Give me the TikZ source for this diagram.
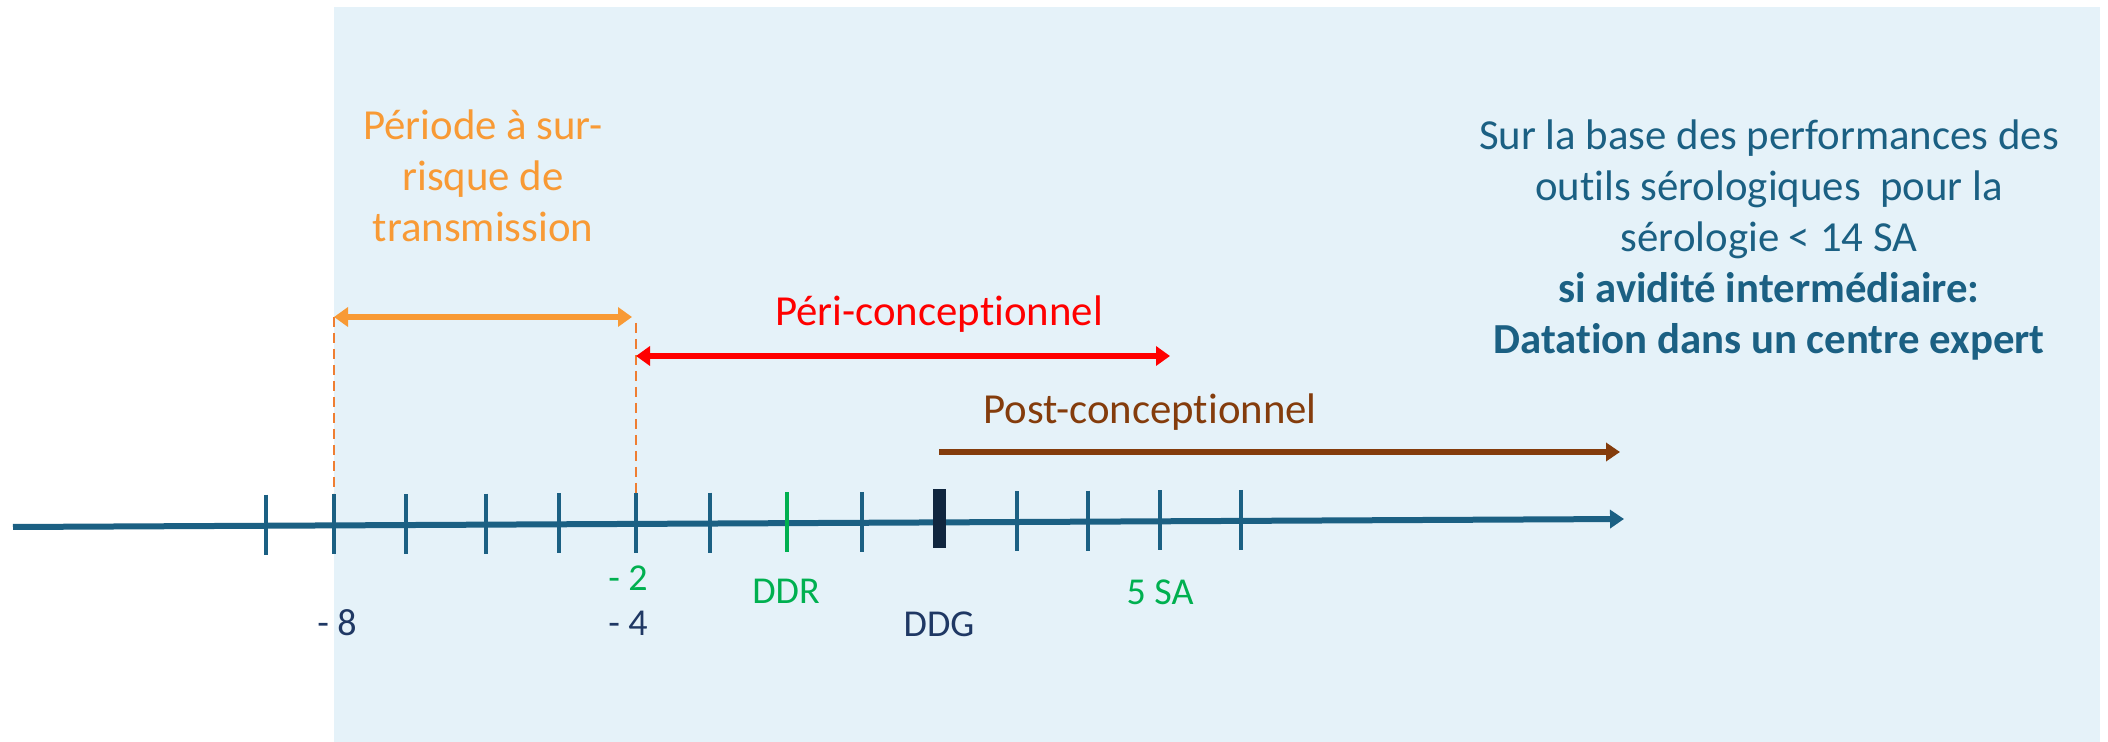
\documentclass[tikz,border=0pt]{standalone}
\usepackage{fontspec}
\setmainfont{Carlito}[Ligatures=NoCommon]
\usetikzlibrary{arrows.meta,calc}
\definecolor{bgblue}{HTML}{E5F2F9}
\definecolor{axisblue}{HTML}{1B6083}
\definecolor{marknavy}{HTML}{10263F}
\definecolor{labelnavy}{HTML}{1F3864}
\definecolor{mygreen}{HTML}{00B050}
\definecolor{myorange}{HTML}{F89A35}
\definecolor{dashorange}{HTML}{EF7E32}
\definecolor{myred}{HTML}{FF0000}
\definecolor{mybrown}{HTML}{843C0C}
\tikzset{
  tip/.style={-{Triangle[length=7pt,width=9pt]}},
  dtip/.style={{Triangle[length=7pt,width=9.5pt]}-{Triangle[length=7pt,width=9.5pt]}},
  axisline/.style={draw=axisblue,line width=3pt,-{Triangle[length=7pt,width=9pt]}},
  tickline/.style={draw=axisblue,line width=1.8pt},
  guide/.style={draw=dashorange,line width=1.1pt,dash pattern=on 5pt off 3pt},
  bigtxt/.style={font=\fontsize{21.4}{25.6}\selectfont,inner sep=0pt,anchor=base,align=center},
  lbl/.style={font=\fontsize{19}{22}\selectfont,inner sep=0pt,anchor=base}
}
\begin{document}
\begin{tikzpicture}[x=0.5pt,y=-0.5pt]
\useasboundingbox (0,0) rectangle (2108,742);
% shaded panel
\fill[bgblue] (334,7) rectangle (2100,742);

% time axis
\coordinate (axL) at (13,527);
\coordinate (axR) at (1624,519);
\draw[axisline] (axL) -- (axR);

% regular ticks (one per week)
\foreach \x/\nm in {266/ta,334/tb,406/tc,486/td,559/te,636/tf,710/tg,862/th,1017/ti,1088/tj,1160/tk,1241/tl}{
  \coordinate (\nm) at ($(axL)!{(\x-13)/1611}!(axR)$);
  \draw[tickline] ($(\nm)+(0,-31)$) -- ($(\nm)+(0,29)$);
}
% last menstrual period tick
\coordinate (tddr) at ($(axL)!{(787-13)/1611}!(axR)$);
\draw[draw=mygreen,line width=1.8pt] ($(tddr)+(0,-31)$) -- ($(tddr)+(0,29)$);
% estimated conception date marker
\coordinate (tddg) at ($(axL)!{(940-13)/1611}!(axR)$);
\draw[draw=marknavy,line width=6.5pt] ($(tddg)+(0,-33)$) -- ($(tddg)+(0,26)$);

% axis labels
\node[lbl,text=mygreen]   (lm2) at (628,590) {- 2};
\node[lbl,text=labelnavy] (lm4) at (628,635) {- 4};
\node[lbl,text=labelnavy] (lm8) at (337,635) {- 8};
\node[lbl,text=mygreen]   (lddr) at (786,603) {DDR};
\node[lbl,text=labelnavy] (lddg) at (939,636) {DDG};
\node[lbl,text=mygreen]   (l5sa) at (1160,604) {5 SA};

% higher-risk window
\coordinate (oL) at (334,317);
\coordinate (oR) at (632,317);
\coordinate (gL) at (334,493);
\coordinate (gRt) at (636,323);
\coordinate (gRb) at (636,498);
\draw[guide] (oL) -- (gL);
\draw[guide] (gRt) -- (gRb);
\draw[draw=myorange,line width=3.2pt,dtip] (oL) -- (oR);
\node[bigtxt,text=myorange] (risk) at (483,242) {Période à sur-\\risque de\\transmission};

% peri-conceptional window
\coordinate (rL) at (636,356);
\coordinate (rR) at (1170,356);
\draw[draw=myred,line width=3.2pt,dtip] (rL) -- (rR);
\node[bigtxt,text=myred] (peri) at (939,326) {Péri-conceptionnel};

% post-conceptional window
\coordinate (bL) at (939,452);
\coordinate (bR) at (1620,452);
\draw[draw=mybrown,line width=2.6pt,tip] (bL) -- (bR);
\node[bigtxt,text=mybrown] (post) at (1150,424) {Post-conceptionnel};

% note
\node[bigtxt,text=axisblue] (note) at (1769,354)
  {Sur la base des performances des\\outils sérologiques~ pour la\\sérologie < 14 SA\\
   \textbf{si avidité intermédiaire:}\\\textbf{Datation dans un centre expert}};
\end{tikzpicture}
\end{document}
